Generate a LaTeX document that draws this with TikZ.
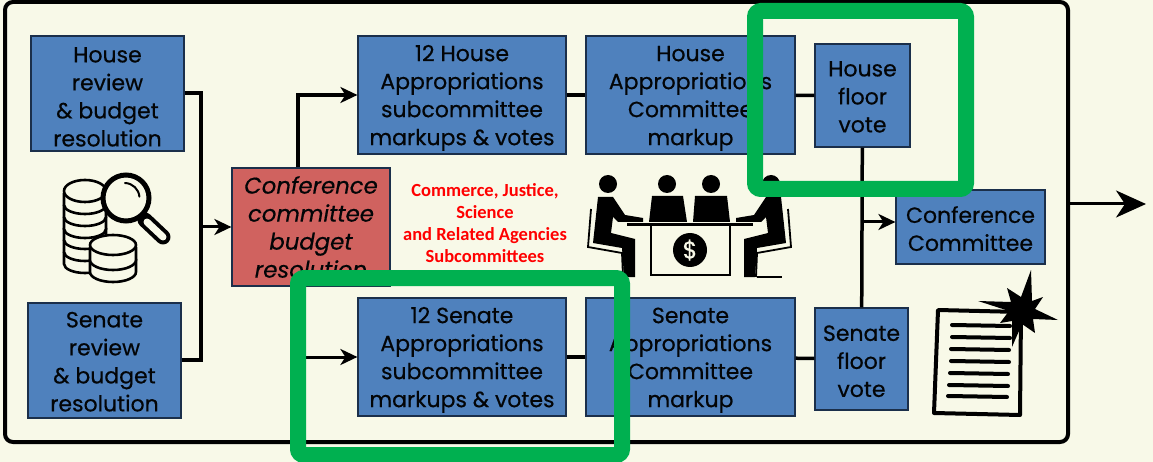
\documentclass[tikz,border=0pt]{standalone}
\usepackage{fontspec}
\setmainfont[FakeBold=0.5]{Poppins}
\newfontfamily\redfont{Carlito}
\usetikzlibrary{arrows.meta}
\definecolor{paper}{HTML}{F8F9E8}
\definecolor{boxblue}{HTML}{4F81BD}
\definecolor{boxred}{HTML}{D0625F}
\definecolor{boxline}{HTML}{1B2F4A}
\definecolor{markgreen}{HTML}{00B050}
\tikzset{
  stepbox/.style={rectangle, draw=boxline, line width=1.2pt, fill=boxblue, align=center, inner sep=0pt,
    text=black!90!boxline, font=\fontsize{22}{28}\selectfont},
  redbox/.style={stepbox, fill=boxred, font=\fontsize{22.8}{28}\itshape\selectfont},
  link/.style={line width=3.5pt, draw=black},
  flow/.style={line width=3pt, draw=black, -{Stealth[length=17pt,width=16pt,inset=5pt]}},
  greenframe/.style={line width=16pt, draw=markgreen, rounded corners=6pt},
  coin/.style={line width=2.6pt, draw=black, fill=paper},
}
\newcommand{\low}[1]{\mbox{}\\[\dimexpr #1pt*2-12pt\relax]}
\newcommand{\sitter}{
  \fill[black] (608,184) circle (9);
  \fill[black] (598,197) -- (613,197) -- (625,215) -- (643,218) -- (643,222) -- (618,222) -- (613,217)
    -- (611,233) -- (635,239) -- (635,277) -- (624,277) -- (622,248) -- (593,243) -- cycle;
  \draw[line width=1.8pt] (591,209) -- (588,247) -- (622,253) -- (623,277);
}
\begin{document}
\begin{tikzpicture}[x=1pt, y=-1pt]
\useasboundingbox (0,0) rectangle (1153,462);
\fill[paper] (0,0) rectangle (1153,462);
\draw[line width=4pt, rounded corners=8pt] (5,2) rectangle (1068,442);

% boxes
\node[stepbox, minimum width=153pt, minimum height=115pt] (housereview) at (107.5,93.5) {\low{3}House\\review\\\&\ budget\\resolution};
\node[stepbox, minimum width=153pt, minimum height=115pt] (senatereview) at (104.5,360.5) {\low{1}Senate\\review\\\&\ budget\\resolution};
\node[redbox, minimum width=158pt, minimum height=118pt] (confres) at (311,227) {Conference\\committee\\budget\\resolution};
\node[stepbox, minimum width=208pt, minimum height=118pt] (housesub) at (462,95) {\low{3}12 House\\Appropriations\\subcommittee\\markups \&\ votes};
\node[stepbox, minimum width=209pt, minimum height=118pt] (housecom) at (690.5,95) {\low{3}House\\Appropriations\\Committee\\markup};
\node[stepbox, minimum width=95pt, minimum height=103pt] (housefloor) at (862.5,95.5) {\low{1}House\\floor\\vote};
\node[stepbox, minimum width=208pt, minimum height=118pt] (senatesub) at (462,357) {\low{3}12 Senate\\Appropriations\\subcommittee\\markups \&\ votes};
\node[stepbox, minimum width=209pt, minimum height=118pt] (senatecom) at (690.5,357) {\low{3}Senate\\Appropriations\\Committee\\markup};
\node[stepbox, minimum width=93pt, minimum height=102pt] (senatefloor) at (861.5,359) {\low{2}Senate\\floor\\vote};
\node[stepbox, minimum width=149pt, minimum height=74pt] (confcom) at (970.5,227) {\low{2}Conference\\Committee};

\node[text=red, align=center, font=\redfont\bfseries\fontsize{18.5}{22}\selectfont] (subcoms) at (485,223) {Commerce, Justice,\\Science\\and Related Agencies\\Subcommittees};

% connectors
\coordinate (outleft) at (201,227);
\coordinate (outright) at (1146,204);
\draw[link] (housereview.east |- 0,93) -| (outleft);
\draw[link] (senatereview.east |- 0,360) -| (outleft);
\draw[flow] (outleft) -- (confres.west);
\draw[flow, line width=3.8pt] ([xshift=-13pt]confres.north) |- (housesub.west);
\draw[flow] ([xshift=-13pt]confres.south) |- (senatesub.west);
\draw[link] (housesub) -- (housecom);
\draw[link] (housecom) -- (housefloor);
\draw[link] (senatesub) -- (senatecom);
\draw[link] (senatecom) -- (senatefloor);
\draw[link] (housefloor) -- (senatefloor);
\coordinate (joinfloor) at (housefloor.south |- confcom.west);
\draw[flow] ([yshift=5pt]joinfloor) -- ([yshift=5pt]confcom.west);
\draw[line width=3pt, -{Stealth[length=30pt,width=27pt,inset=9pt]}] (1068,204) -- (outright);

% coins and lens
\foreach \y in {264,252,240,229,217,205} {
  \draw[coin] (64,\y-12) -- (64,\y) arc[start angle=180, end angle=0, x radius=21, y radius=9] -- (106,\y-12);
}
\draw[coin] (85,191) ellipse (21 and 11);
\foreach \y in {272,260} {
  \draw[coin] (90,\y-13) -- (90,\y) arc[start angle=180, end angle=0, x radius=23, y radius=10] -- (136,\y-13);
}
\draw[coin] (113,245) ellipse (23 and 10);
\draw[line width=15pt, line cap=round] (145,220) -- (163,237);
\draw[line width=7pt, paper, line cap=round] (147,222) -- (163,237);
\draw[coin, line width=5pt] (126,198) circle (23);
\draw[line width=2pt, line cap=round] (125,183) arc[start angle=-88, end angle=-5, radius=15];

% table and people
\sitter
\begin{scope}[xshift=1379pt, xscale=-1]
\sitter
\end{scope}
\draw[line width=1.8pt] (757,277) -- (782,277);
\fill[black] (667,184) circle (9);
\fill[black] (711,184) circle (9);
\fill[black] (652,196) -- (683,196) -- (687,222) -- (649,222) -- cycle;
\fill[black] (695,196) -- (727,196) -- (730,222) -- (693,222) -- cycle;
\draw[line width=3pt] (627,225) -- (753,225);
\draw[line width=2.6pt] (651,225) -- (651,275) -- (730,275) -- (730,225);
\fill[black] (690,250) circle (17);
\node[text=paper, font=\fontsize{24}{24}\selectfont, inner sep=0pt] (dollar) at (690,250) {\$};

% report and burst
\draw[line width=4pt, line join=round] (938,310) -- (1021,312) -- (1020,415) -- (934,413) -- cycle;
\foreach \ya/\xa/\xb in {325/952/1010,337/952/1010,349/951/1009,361/951/1009,373/950/1008,385/949/1008,396/948/1007} {
  \draw[line width=4pt, line cap=round] (\xa,\ya) -- (\xb,\ya+1);
}
\fill[black] (1031,270) -- (1032,301) -- (1043,297) -- (1035,309) -- (1058,320) -- (1033,319) -- (1035,333)
  -- (1022,324) -- (1012,347) -- (1012,321) -- (1000,323) -- (1009,311) -- (978,301) -- (1011,302)
  -- (1007,288) -- (1021,297) -- cycle;

% highlight frames
\draw[greenframe] (755,11) rectangle (966,189);
\draw[greenframe] (298,278) rectangle (622,455);
\end{tikzpicture}
\end{document}
